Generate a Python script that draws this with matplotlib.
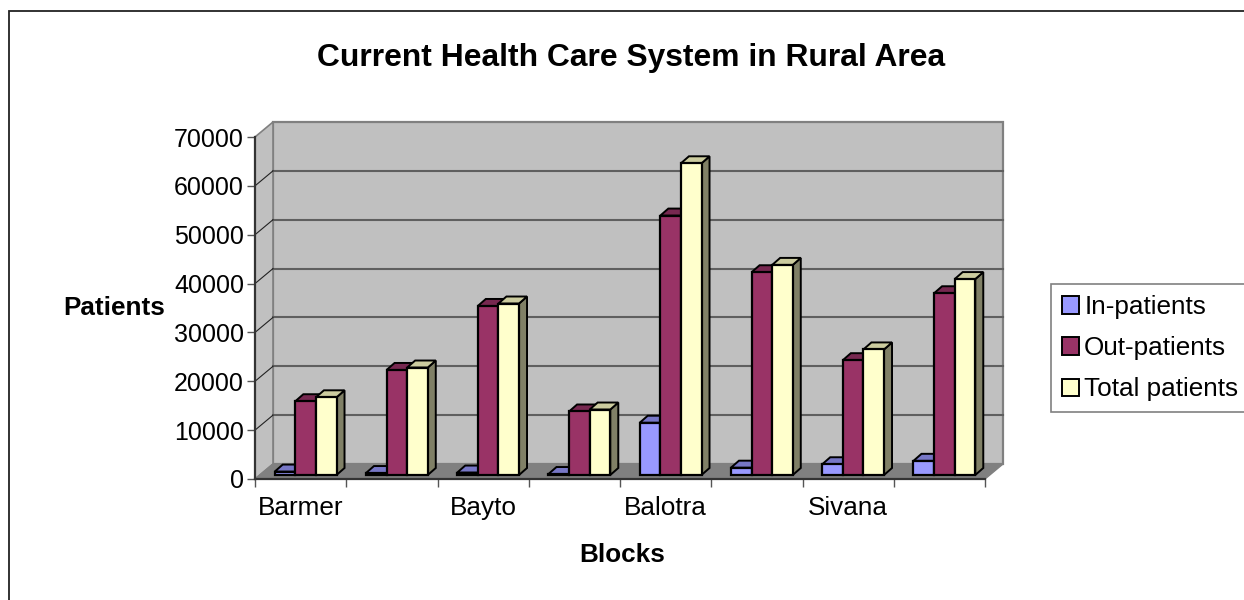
import matplotlib
matplotlib.use('Agg')
import matplotlib.pyplot as plt
from matplotlib.patches import Polygon, Rectangle

# --- data ---
blocks = ['Barmer', '', 'Bayto', '', 'Balotra', '', 'Sivana', '']
in_patients = [700, 400, 500, 200, 10700, 1500, 2200, 2900]
out_patients = [15100, 21500, 34600, 13000, 53100, 41500, 23500, 37200]
total_patients = [15900, 22000, 35100, 13400, 63800, 43000, 25700, 40100]
y_ticks = [0, 10000, 20000, 30000, 40000, 50000, 60000, 70000]

series = [
    ('In-patients', in_patients, '#9999FF', '#7777C6', '#5C5C99'),
    ('Out-patients', out_patients, '#993366', '#772850', '#4D1A33'),
    ('Total patients', total_patients, '#FFFFCC', '#CCCC9F', '#808066'),
]

plt.rcParams['font.family'] = ['Liberation Sans', 'DejaVu Sans']

W, H = 1244, 600
fs = 18.8
fig = plt.figure(figsize=(W / 100, H / 100), dpi=100)

# chart frame, right and bottom edges run off the picture
fig.add_artist(Rectangle((8.5 / W, 1 - 700 / H), 1300 / W, 689.5 / H,
                         transform=fig.transFigure, fill=False,
                         edgecolor='#222222', linewidth=1.3))

# axes = the front face of the 3d box
ax = fig.add_axes([255 / W, 1 - 479 / H, 730 / W, 342 / H])
ax.set_xlim(0, 8)
ax.set_ylim(0, 70000)
ax.patch.set_visible(False)
for s in ax.spines.values():
    s.set_visible(False)

# depth of box and bars, in data units
px_x = 8 / 730
px_y = 70000 / 342
wall_dx, wall_dy = 18 * px_x, 15 * px_y
bar_dx, bar_dy = 8 * px_x, 7 * px_y
inset_x, inset_y = 5 * px_x, 4 * px_y
bar_w = 20.6 * px_x
ymax = y_ticks[-1]

# walls and floor
ax.add_patch(Polygon([(wall_dx, wall_dy), (8 + wall_dx, wall_dy),
                      (8 + wall_dx, ymax + wall_dy), (wall_dx, ymax + wall_dy)],
                     facecolor='#C0C0C0', edgecolor='#808080', linewidth=1.6, zorder=1, clip_on=False))
ax.add_patch(Polygon([(0, 0), (wall_dx, wall_dy), (wall_dx, ymax + wall_dy), (0, ymax)],
                     facecolor='#C0C0C0', edgecolor='#808080', linewidth=1.2, zorder=1, clip_on=False))
ax.add_patch(Polygon([(0, 0), (8, 0), (8 + wall_dx, wall_dy), (wall_dx, wall_dy)],
                     facecolor='#808080', edgecolor='#808080', linewidth=1, zorder=1, clip_on=False))

# gridlines along back wall + diagonals on side wall
for v in y_ticks[1:-1]:
    ax.plot([wall_dx, 8 + wall_dx], [v + wall_dy, v + wall_dy], color='#5F5F5F', linewidth=1.5, zorder=2, clip_on=False)
    ax.plot([0, wall_dx], [v, v + wall_dy], color='#222222', linewidth=0.8, zorder=2, clip_on=False)

# bars, left to right so later faces cover earlier sides
z = 3
for i in range(len(blocks)):
    for j, (name, vals, col, top_col, side_col) in enumerate(series):
        x0 = i + (1 - 3 * bar_w) / 2 + j * bar_w + inset_x
        x1 = x0 + bar_w
        y0 = inset_y
        y1 = vals[i] + inset_y
        ax.add_patch(Polygon([(x1, y0), (x1 + bar_dx, y0 + bar_dy), (x1 + bar_dx, y1 + bar_dy), (x1, y1)],
                             facecolor=side_col, edgecolor='black', linewidth=1.4, zorder=z, clip_on=False))
        ax.add_patch(Polygon([(x0, y1), (x1, y1), (x1 + bar_dx, y1 + bar_dy), (x0 + bar_dx, y1 + bar_dy)],
                             facecolor=top_col, edgecolor='black', linewidth=1.4, zorder=z, clip_on=False))
        ax.bar(x0, vals[i], width=bar_w, bottom=y0, align='edge', color=col,
               edgecolor='black', linewidth=1.6, zorder=z + 0.5, clip_on=False)
        z += 1

# front axis lines on top of the floor
ax.plot([0, 0], [0, ymax], color='#333333', linewidth=1.6, zorder=2.5, clip_on=False)
ax.plot([0, 8], [0, 0], color='#333333', linewidth=1.6, zorder=2.5, clip_on=False)

ax.set_yticks(y_ticks)
ax.set_yticklabels([str(v) for v in y_ticks], fontsize=18)
ax.tick_params(axis='y', length=6, width=1, color='#555555', pad=2)
ax.set_xticks(range(9))
ax.set_xticklabels([])
ax.set_xticks([i + 0.5 for i in range(8)], labels=blocks, minor=True, fontsize=fs)
ax.tick_params(axis='x', which='major', length=6, width=1, color='#555555')
ax.tick_params(axis='x', which='minor', length=0, pad=12)

# titles
fig.text(631 / W, 1 - 58 / H, 'Current Health Care System in Rural Area',
         fontsize=22.9, fontweight='bold', ha='center', va='center')
fig.text(114 / W, 1 - 308 / H, 'Patients', fontsize=fs, fontweight='bold', ha='center', va='center')
fig.text(622 / W, 1 - 555 / H, 'Blocks', fontsize=fs, fontweight='bold', ha='center', va='center')

# legend
handles = [Rectangle((0, 0), 1, 1, facecolor=c, edgecolor='black', linewidth=1.4) for _, _, c, _, _ in series]
leg = fig.legend(handles, [s[0] for s in series], loc='upper left',
                 bbox_to_anchor=(1051 / W, 1 - 284 / H), bbox_transform=fig.transFigure,
                 fontsize=fs, frameon=True, fancybox=False, borderaxespad=0,
                 handlelength=0.65, handleheight=0.65, handletextpad=0.2, labelspacing=0.66,
                 borderpad=0.42, edgecolor='#808080', framealpha=1)
leg.get_frame().set_linewidth(1.2)

plt.savefig('out.png', dpi=100)
